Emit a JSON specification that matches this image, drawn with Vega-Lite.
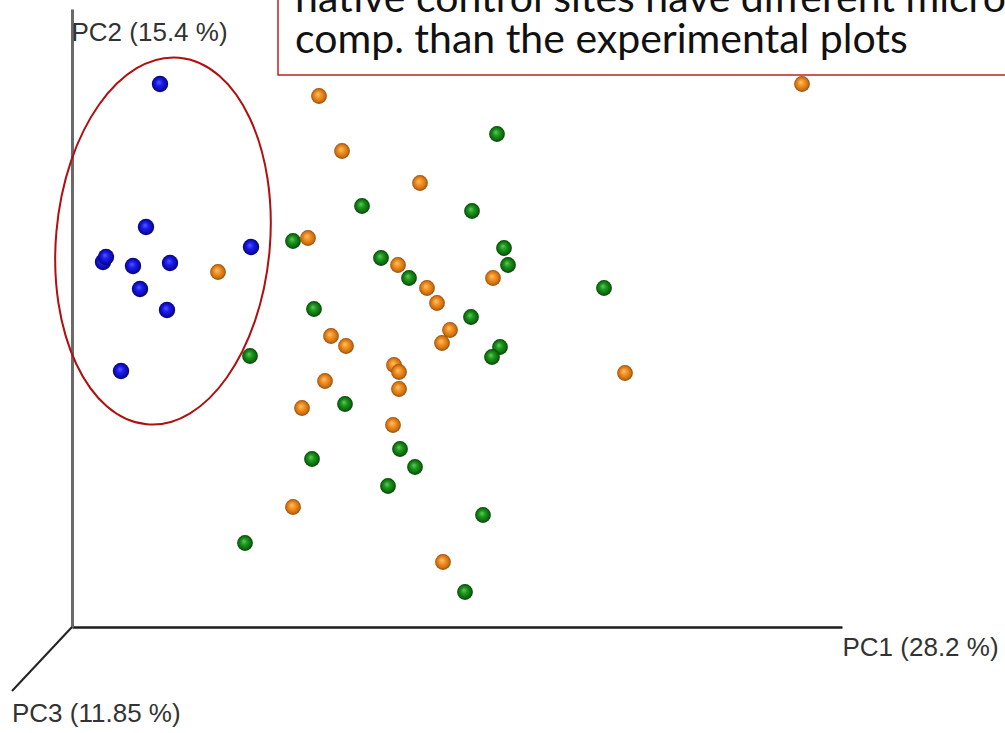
{
  "$schema": "https://vega.github.io/schema/vega-lite/v6.json",
  "width": 770,
  "height": 618,
  "autosize": {"type": "none"},
  "padding": {"left": 72, "top": 9, "right": 163, "bottom": 106},
  "background": "white",
  "config": {
    "view": {"stroke": null},
    "axisX": {
      "domainColor": "#1e1e1e", "domainWidth": 2.5, "ticks": false, "labels": false, "grid": false,
      "titleX": 770, "titleY": 28, "titleAlign": "left", "titleBaseline": "alphabetic", "titleAnchor": null,
      "titleFont": "Liberation Sans", "titleFontSize": 26, "titleFontWeight": "normal", "titleColor": "#333333"
    },
    "axisY": {
      "domainColor": "#6a6a6a", "domainWidth": 3, "ticks": false, "labels": false, "grid": false,
      "titleX": -1, "titleY": 31, "titleAngle": 0, "titleAlign": "left", "titleBaseline": "alphabetic", "titleAnchor": null,
      "titleFont": "Liberation Sans", "titleFontSize": 26, "titleFontWeight": "normal", "titleColor": "#333333"
    }
  },
  "datasets": {
    "samples": [
      {"group": "native", "pc1": 88, "pc2": 543},
      {"group": "native", "pc1": 74, "pc2": 400},
      {"group": "native", "pc1": 31, "pc2": 365},
      {"group": "native", "pc1": 34, "pc2": 370},
      {"group": "native", "pc1": 61, "pc2": 361},
      {"group": "native", "pc1": 98, "pc2": 364},
      {"group": "native", "pc1": 68, "pc2": 338},
      {"group": "native", "pc1": 95, "pc2": 317},
      {"group": "native", "pc1": 49, "pc2": 256},
      {"group": "native", "pc1": 179, "pc2": 380},
      {"group": "green", "pc1": 178, "pc2": 271},
      {"group": "green", "pc1": 425, "pc2": 493},
      {"group": "green", "pc1": 290, "pc2": 421},
      {"group": "green", "pc1": 400, "pc2": 416},
      {"group": "green", "pc1": 221, "pc2": 386},
      {"group": "green", "pc1": 309, "pc2": 369},
      {"group": "green", "pc1": 337, "pc2": 349},
      {"group": "green", "pc1": 432, "pc2": 379},
      {"group": "green", "pc1": 436, "pc2": 362},
      {"group": "green", "pc1": 399, "pc2": 310},
      {"group": "green", "pc1": 242, "pc2": 318},
      {"group": "green", "pc1": 428, "pc2": 280},
      {"group": "green", "pc1": 420, "pc2": 270},
      {"group": "green", "pc1": 273, "pc2": 223},
      {"group": "green", "pc1": 240, "pc2": 168},
      {"group": "green", "pc1": 328, "pc2": 178},
      {"group": "green", "pc1": 343, "pc2": 160},
      {"group": "green", "pc1": 316, "pc2": 141},
      {"group": "green", "pc1": 411, "pc2": 112},
      {"group": "green", "pc1": 173, "pc2": 84},
      {"group": "green", "pc1": 393, "pc2": 35},
      {"group": "green", "pc1": 532, "pc2": 339},
      {"group": "orange", "pc1": 146, "pc2": 355},
      {"group": "orange", "pc1": 247, "pc2": 531},
      {"group": "orange", "pc1": 270, "pc2": 476},
      {"group": "orange", "pc1": 348, "pc2": 444},
      {"group": "orange", "pc1": 236, "pc2": 389},
      {"group": "orange", "pc1": 326, "pc2": 362},
      {"group": "orange", "pc1": 355, "pc2": 339},
      {"group": "orange", "pc1": 365, "pc2": 324},
      {"group": "orange", "pc1": 421, "pc2": 349},
      {"group": "orange", "pc1": 378, "pc2": 297},
      {"group": "orange", "pc1": 370, "pc2": 284},
      {"group": "orange", "pc1": 259, "pc2": 291},
      {"group": "orange", "pc1": 274, "pc2": 281},
      {"group": "orange", "pc1": 322, "pc2": 262},
      {"group": "orange", "pc1": 327, "pc2": 255},
      {"group": "orange", "pc1": 327, "pc2": 238},
      {"group": "orange", "pc1": 253, "pc2": 246},
      {"group": "orange", "pc1": 230, "pc2": 219},
      {"group": "orange", "pc1": 321, "pc2": 202},
      {"group": "orange", "pc1": 221, "pc2": 120},
      {"group": "orange", "pc1": 371, "pc2": 65},
      {"group": "orange", "pc1": 730, "pc2": 543},
      {"group": "orange", "pc1": 553, "pc2": 254}
    ],
    "pc3axis": [{"pc1": 0, "pc2": 0, "pc1end": -60, "pc2end": -64}],
    "pc3label": [{"pc1": -60, "pc2": -95, "label": "PC3 (11.85 %)"}],
    "box": [{"pc1": 206, "pc1end": 945, "pc2": 640, "pc2end": 552}],
    "boxText": [
      {"pc1": 223, "pc2": 615, "line": "native control sites have different microbial"},
      {"pc1": 223, "pc2": 574, "line": "comp. than the experimental plots"}
    ],
    "ellipse": [{"pc1": 91, "pc2": 386, "label": "native control sites"}]
  },
  "layer": [
    {
      "data": {"name": "pc3axis"},
      "mark": {"type": "rule", "color": "#222222", "strokeWidth": 2},
      "encoding": {
        "x": {"field": "pc1", "type": "quantitative", "title": "PC1 (28.2 %)", "scale": {"domain": [0, 770], "nice": false, "zero": false}},
        "y": {"field": "pc2", "type": "quantitative", "title": "PC2 (15.4 %)", "scale": {"domain": [0, 618], "nice": false, "zero": false}},
        "x2": {"field": "pc1end"},
        "y2": {"field": "pc2end"}
      }
    },
    {
      "data": {"name": "pc3label"},
      "mark": {"type": "text", "align": "left", "baseline": "alphabetic", "font": "Liberation Sans", "fontSize": 26, "color": "#333333"},
      "encoding": {
        "x": {"field": "pc1", "type": "quantitative", "title": "PC1 (28.2 %)", "scale": {"domain": [0, 770], "nice": false, "zero": false}},
        "y": {"field": "pc2", "type": "quantitative", "title": "PC2 (15.4 %)", "scale": {"domain": [0, 618], "nice": false, "zero": false}},
        "text": {"field": "label"}
      }
    },
    {
      "data": {"name": "ellipse"},
      "mark": {"type": "point", "shape": "M 0 -1 A 0.5815 1 0 1 1 0 1 A 0.5815 1 0 1 1 0 -1 Z", "size": 135424, "angle": 5, "filled": false, "fillOpacity": 0, "stroke": "#b00f0f", "strokeWidth": 2, "opacity": 1},
      "encoding": {
        "x": {"field": "pc1", "type": "quantitative", "title": "PC1 (28.2 %)", "scale": {"domain": [0, 770], "nice": false, "zero": false}},
        "y": {"field": "pc2", "type": "quantitative", "title": "PC2 (15.4 %)", "scale": {"domain": [0, 618], "nice": false, "zero": false}}
      }
    },
    {
      "data": {"name": "samples"},
      "transform": [{"filter": "datum.group === 'native'"}],
      "mark": {"type": "point", "shape": "circle", "size": 270, "opacity": 1, "strokeWidth": 0,
        "fill": {"gradient": "radial", "x1": 0.42, "y1": 0.38, "r1": 0, "x2": 0.5, "y2": 0.5, "r2": 0.5,
          "stops": [{"offset": 0, "color": "#5a5aff"}, {"offset": 0.4, "color": "#1c1cee"}, {"offset": 0.8, "color": "#0b0bb0"}, {"offset": 1, "color": "#05056a"}]}},
      "encoding": {
        "x": {"field": "pc1", "type": "quantitative", "title": "PC1 (28.2 %)", "scale": {"domain": [0, 770], "nice": false, "zero": false}},
        "y": {"field": "pc2", "type": "quantitative", "title": "PC2 (15.4 %)", "scale": {"domain": [0, 618], "nice": false, "zero": false}}
      }
    },
    {
      "data": {"name": "samples"},
      "transform": [{"filter": "datum.group === 'green'"}],
      "mark": {"type": "point", "shape": "circle", "size": 250, "opacity": 1, "strokeWidth": 0,
        "fill": {"gradient": "radial", "x1": 0.42, "y1": 0.38, "r1": 0, "x2": 0.5, "y2": 0.5, "r2": 0.5,
          "stops": [{"offset": 0, "color": "#5ccc5c"}, {"offset": 0.4, "color": "#1e961e"}, {"offset": 0.8, "color": "#0d6a0d"}, {"offset": 1, "color": "#063f06"}]}},
      "encoding": {
        "x": {"field": "pc1", "type": "quantitative", "title": "PC1 (28.2 %)", "scale": {"domain": [0, 770], "nice": false, "zero": false}},
        "y": {"field": "pc2", "type": "quantitative", "title": "PC2 (15.4 %)", "scale": {"domain": [0, 618], "nice": false, "zero": false}}
      }
    },
    {
      "data": {"name": "samples"},
      "transform": [{"filter": "datum.group === 'orange'"}],
      "mark": {"type": "point", "shape": "circle", "size": 250, "opacity": 1, "strokeWidth": 0,
        "fill": {"gradient": "radial", "x1": 0.42, "y1": 0.38, "r1": 0, "x2": 0.5, "y2": 0.5, "r2": 0.5,
          "stops": [{"offset": 0, "color": "#ffc268"}, {"offset": 0.4, "color": "#f29222"}, {"offset": 0.8, "color": "#cc6e12"}, {"offset": 1, "color": "#8c4a08"}]}},
      "encoding": {
        "x": {"field": "pc1", "type": "quantitative", "title": "PC1 (28.2 %)", "scale": {"domain": [0, 770], "nice": false, "zero": false}},
        "y": {"field": "pc2", "type": "quantitative", "title": "PC2 (15.4 %)", "scale": {"domain": [0, 618], "nice": false, "zero": false}}
      }
    },
    {
      "data": {"name": "box"},
      "mark": {"type": "rect", "fill": "white", "stroke": "#c0201e", "strokeWidth": 1.5},
      "encoding": {
        "x": {"field": "pc1", "type": "quantitative", "title": "PC1 (28.2 %)", "scale": {"domain": [0, 770], "nice": false, "zero": false}},
        "y": {"field": "pc2", "type": "quantitative", "title": "PC2 (15.4 %)", "scale": {"domain": [0, 618], "nice": false, "zero": false}},
        "x2": {"field": "pc1end"},
        "y2": {"field": "pc2end"}
      }
    },
    {
      "data": {"name": "boxText"},
      "mark": {"type": "text", "align": "left", "baseline": "alphabetic", "font": "Lato", "fontSize": 41, "color": "#111111"},
      "encoding": {
        "x": {"field": "pc1", "type": "quantitative", "title": "PC1 (28.2 %)", "scale": {"domain": [0, 770], "nice": false, "zero": false}},
        "y": {"field": "pc2", "type": "quantitative", "title": "PC2 (15.4 %)", "scale": {"domain": [0, 618], "nice": false, "zero": false}},
        "text": {"field": "line"}
      }
    }
  ]
}
